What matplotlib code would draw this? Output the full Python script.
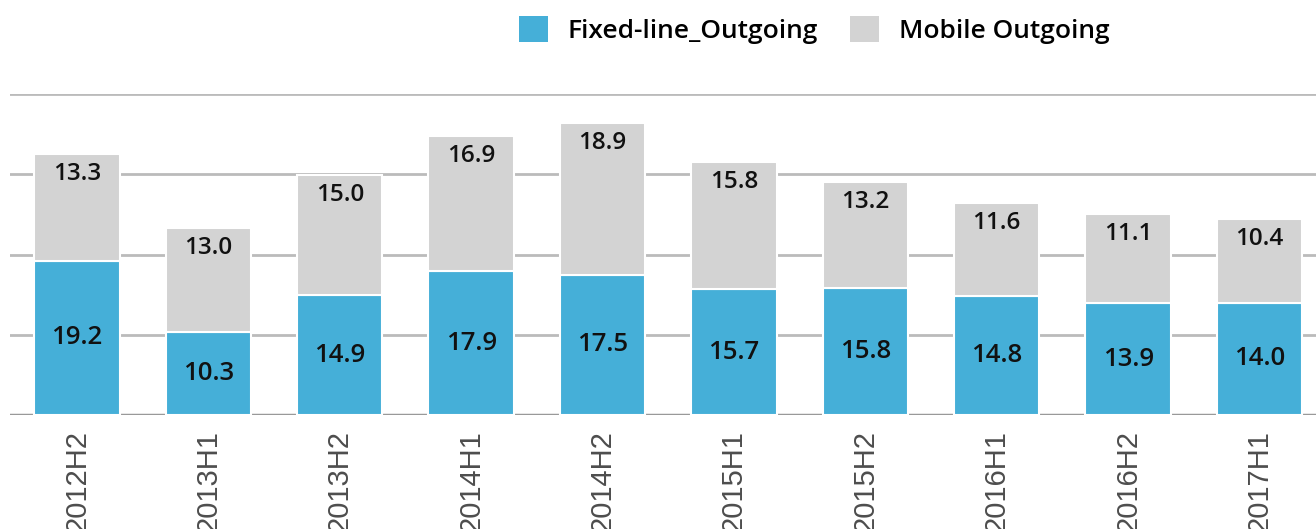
import numpy as np
import matplotlib.pyplot as plt
from matplotlib.patches import Patch

periods = ['2012H2', '2013H1', '2013H2', '2014H1', '2014H2',
           '2015H1', '2015H2', '2016H1', '2016H2', '2017H1']
fixed_out = [19.2, 10.3, 14.9, 17.9, 17.5, 15.7, 15.8, 14.8, 13.9, 14.0]
mobile_out = [13.3, 13.0, 15.0, 16.9, 18.9, 15.8, 13.2, 11.6, 11.1, 10.4]

BLUE = '#45afd8'
GRAY = '#d3d3d3'
LABEL_FONT = 'Open Sans'

fig = plt.figure(figsize=(13.16, 5.29), dpi=100)
ax = fig.add_axes([10 / 1316, 1 - 415 / 529, 1 - 10 / 1316, (415 - 94) / 529])

x = np.arange(len(periods))
ax.bar(x, fixed_out, width=0.65, color=BLUE, edgecolor='white', linewidth=1.5, zorder=3)
ax.bar(x, mobile_out, width=0.65, bottom=fixed_out, color=GRAY,
       edgecolor='white', linewidth=1.5, zorder=3)

for xi, f, m in zip(x, fixed_out, mobile_out):
    ax.text(xi, f / 2, f'{f:.1f}', ha='center', va='center', fontsize=18.5,
            fontweight='semibold', family=LABEL_FONT, color='#111111', zorder=4)
    ax.text(xi, f + m - 2.5, f'{m:.1f}', ha='center', va='center', fontsize=17.5,
            fontweight='semibold', family=LABEL_FONT, color='#111111', zorder=4)

ax.set_xlim(-0.51, 9.43)
ax.set_ylim(0, 40)
ax.set_yticks([10, 20, 30, 40])
ax.yaxis.grid(True, color='#bbbbbb', linewidth=2)
ax.set_axisbelow(True)
ax.tick_params(axis='y', left=False, labelleft=False)
for s in ax.spines.values():
    s.set_visible(False)
ax.axhline(0, color='#999999', linewidth=2.5, zorder=2)

ax.set_xticks(x)
ax.set_xticklabels(periods, rotation=90, va='top', fontsize=21,
                   family='Liberation Sans', color='#4d4d4d')
ax.tick_params(axis='x', length=0, pad=11)

handles = [Patch(facecolor=BLUE, edgecolor='none'), Patch(facecolor=GRAY, edgecolor='none')]
leg = fig.legend(handles, ['Fixed-line_Outgoing', 'Mobile Outgoing'], ncol=2,
                 loc='center', bbox_to_anchor=(814 / 1316, 1 - 30 / 529), frameon=False,
                 handlelength=1.1, handleheight=1.1, handletextpad=0.75, columnspacing=1.2,
                 prop={'family': LABEL_FONT, 'weight': 'semibold', 'size': 19})

fig.savefig('out.png', dpi=100)
